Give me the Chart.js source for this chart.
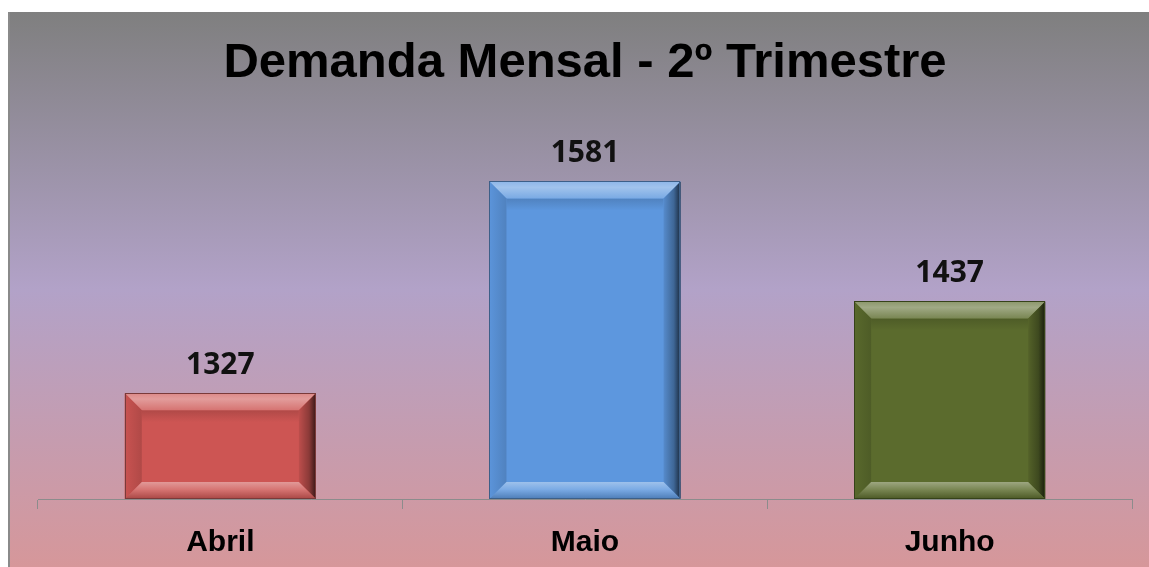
<!DOCTYPE html>
<html>
<head>
<meta charset="utf-8">
<script src="https://cdn.jsdelivr.net/npm/chart.js@4/dist/chart.umd.min.js"></script>
<style>
  html, body { margin: 0; padding: 0; background: #fff; overflow: hidden; }
  #wrap { position: absolute; left: 8px; top: 12px; width: 1141px; height: 565px; }
</style>
</head>
<body>
<div id="wrap"><canvas id="chart"></canvas></div>
<script>
const months = ['Abril', 'Maio', 'Junho'];
const demand = [1327, 1581, 1437];
const faceColors = ['#cd5553', '#5d97de', '#5b6b2d'];
const edgeColors = ['#7a3a3a', '#3d5f88', '#36421a'];

const hexToRgb = (h) => [1, 3, 5].map(i => parseInt(h.substr(i, 2), 16));
const mix = (hex, target, t) => {
    const a = hexToRgb(hex);
    const b = target === 'white' ? [255, 255, 255] : [0, 0, 0];
    const c = a.map((v, i) => Math.round(v + (b[i] - v) * t));
    return `rgb(${c[0]},${c[1]},${c[2]})`;
};

// gradient background + left rule
const backdrop = {
    id: 'backdrop',
    beforeDraw(chart) {
        const { ctx, width, height } = chart;
        const g = ctx.createLinearGradient(0, 0, 0, 555);
        g.addColorStop(0, '#7f7f7f');
        g.addColorStop(0.5, '#b2a2c8');
        g.addColorStop(1, '#d6979a');
        ctx.save();
        ctx.fillStyle = g;
        ctx.fillRect(0, 0, width, height);
        ctx.fillStyle = '#8a8a8a';
        ctx.fillRect(0, 0, 2, height);
        ctx.restore();
    }
};

// bevelled bars and value labels
const bevel = {
    id: 'bevel',
    afterDatasetsDraw(chart) {
        const { ctx, chartArea } = chart;
        const meta = chart.getDatasetMeta(0);
        meta.data.forEach((bar, i) => {
            const face = faceColors[i];
            const L = bar.x - bar.width / 2, R = bar.x + bar.width / 2;
            const T = bar.y, B = Math.min(bar.base, chartArea.bottom);
            const d = Math.min(17, (R - L) / 3, (B - T) / 3);
            ctx.save();

            const poly = (pts, fill) => {
                ctx.beginPath();
                ctx.moveTo(pts[0][0], pts[0][1]);
                pts.slice(1).forEach(p => ctx.lineTo(p[0], p[1]));
                ctx.closePath();
                ctx.fillStyle = fill;
                ctx.fill();
            };

            // inner shadow under the top bevel
            let g = ctx.createLinearGradient(0, T + d, 0, T + d + 12);
            g.addColorStop(0, mix(face, 'black', 0.14));
            g.addColorStop(1, face);
            ctx.fillStyle = g;
            ctx.fillRect(L + d, T + d, R - L - 2 * d, 12);

            // top
            g = ctx.createLinearGradient(0, T, 0, T + d);
            g.addColorStop(0, mix(face, 'white', 0.3));
            g.addColorStop(0.35, mix(face, 'white', 0.42));
            g.addColorStop(1, mix(face, 'white', 0.18));
            poly([[L, T], [R, T], [R - d, T + d], [L + d, T + d]], g);

            // left
            g = ctx.createLinearGradient(L, 0, L + d, 0);
            g.addColorStop(0, mix(face, 'black', 0.02));
            g.addColorStop(1, mix(face, 'black', 0.14));
            poly([[L, T], [L + d, T + d], [L + d, B - d], [L, B]], g);

            // right
            g = ctx.createLinearGradient(R - d, 0, R, 0);
            g.addColorStop(0, mix(face, 'black', 0.08));
            g.addColorStop(0.6, mix(face, 'black', 0.32));
            g.addColorStop(1, mix(face, 'black', 0.72));
            poly([[R, T], [R, B], [R - d, B - d], [R - d, T + d]], g);

            // bottom
            g = ctx.createLinearGradient(0, B - d, 0, B);
            g.addColorStop(0, mix(face, 'white', 0.4));
            g.addColorStop(0.45, mix(face, 'white', 0.18));
            g.addColorStop(1, mix(face, 'black', 0.18));
            poly([[L, B], [L + d, B - d], [R - d, B - d], [R, B]], g);

            // outline
            ctx.strokeStyle = edgeColors[i];
            ctx.lineWidth = 1;
            ctx.strokeRect(Math.round(L) + 0.5, Math.round(T) + 0.5, Math.round(R - L) - 1, Math.round(B - T) - 1);

            // value label
            ctx.fillStyle = '#111';
            ctx.font = 'bold 30px "Noto Sans", "Liberation Sans", sans-serif';
            ctx.textAlign = 'center';
            ctx.textBaseline = 'alphabetic';
            ctx.fillText(String(demand[i]), bar.x, T - 19);
            ctx.restore();
        });
    }
};

new Chart(document.getElementById('chart').getContext('2d'), {
    type: 'bar',
    data: {
        labels: months,
        datasets: [{
            label: 'Demanda',
            data: demand,
            backgroundColor: faceColors,
            borderWidth: 0,
            barPercentage: 0.524,
            categoryPercentage: 1
        }]
    },
    options: {
        responsive: true,
        maintainAspectRatio: false,
        animation: false,
        events: [],
        layout: { padding: { left: 30, right: 17, top: 0, bottom: 0 } },
        scales: {
            x: {
                grid: {
                    display: true,
                    drawOnChartArea: false,
                    drawTicks: true,
                    tickLength: 10,
                    color: '#8c8c8c',
                    lineWidth: 1
                },
                border: { display: true, color: '#8c8c8c', width: 1 },
                ticks: {
                    color: '#000',
                    padding: 16,
                    font: { family: '"Liberation Sans", Arial, sans-serif', size: 30, weight: 'bold', lineHeight: 1.2 }
                }
            },
            y: {
                display: false,
                min: 1200,
                max: 1700
            }
        },
        plugins: {
            legend: { display: false },
            tooltip: { enabled: false },
            title: {
                display: true,
                text: 'Demanda Mensal - 2º Trimestre',
                color: '#000',
                font: { family: '"Liberation Sans", Arial, sans-serif', size: 49, weight: 'bold', lineHeight: 0.76 },
                padding: { top: 33, bottom: 0 }
            }
        }
    },
    plugins: [backdrop, bevel]
});
</script>
</body>
</html>
